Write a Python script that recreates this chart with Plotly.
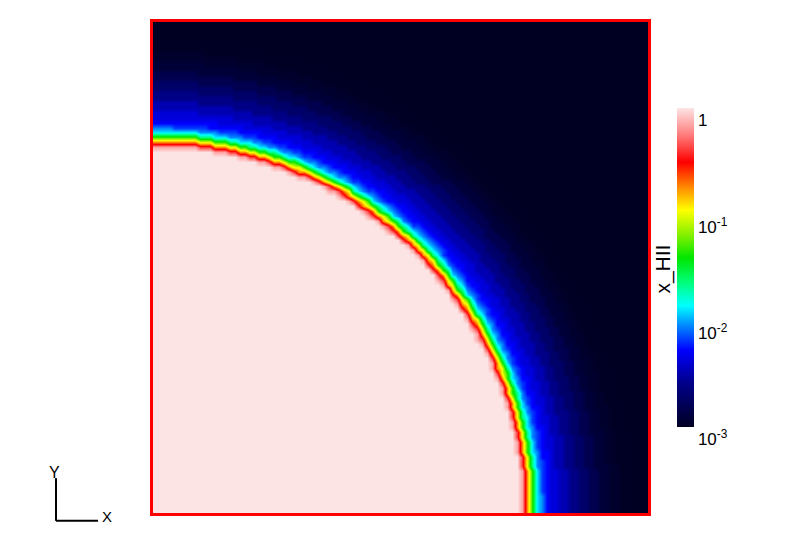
"""Slice of the ionised fraction x_HII around a point source (quarter box)."""

import numpy as np
import plotly.graph_objects as go

# grid resolution of the simulation slice (cells per side)
n_cells = 100

# radial profile: outer radius of each shell (box units)
shell_outer_radius = [0.745, 0.750, 0.755, 0.760, 0.765, 0.770, 0.775, 0.780,
                      0.786, 0.793, 0.805, 0.820, 0.840, 0.860, 0.880, 0.900,
                      0.920, 0.940, 0.960]
# x_HII in each shell, last value is everything beyond the last shell
shell_x_hii = [1.0, 0.7, 0.4, 0.18, 0.1, 0.045, 0.022, 0.0126,
               0.0089, 0.0066, 0.0052, 0.0042, 0.0033, 0.0025, 0.0019, 0.00148,
               0.00123, 0.0011, 0.00102, 0.001]

tick_vals = [-3, -2, -1, 0]
tick_text = ["10<sup>-3</sup>", "10<sup>-2</sup>", "10<sup>-1</sup>", "1"]

# colour map: navy -> blue -> cyan -> green -> yellow -> red -> pale pink
colorscale = [
    [0.00, "rgb(0,0,35)"],
    [0.14, "rgb(0,0,140)"],
    [0.24, "rgb(0,0,255)"],
    [0.32, "rgb(0,140,255)"],
    [0.38, "rgb(0,255,255)"],
    [0.45, "rgb(0,255,128)"],
    [0.53, "rgb(0,230,0)"],
    [0.60, "rgb(128,240,0)"],
    [0.68, "rgb(255,255,0)"],
    [0.75, "rgb(255,140,0)"],
    [0.83, "rgb(255,0,0)"],
    [0.92, "rgb(255,130,130)"],
    [1.00, "rgb(253,228,228)"],
]

# build the 2D slice by looking up each cell's shell
centres = (np.arange(n_cells) + 0.5) / n_cells
xx, yy = np.meshgrid(centres, centres)
rr = np.sqrt(xx ** 2 + yy ** 2)
shell_idx = np.searchsorted(np.array(shell_outer_radius), rr)
z = np.log10(np.array(shell_x_hii))[shell_idx]

font = "Liberation Sans, Arial, sans-serif"

fig = go.Figure(go.Heatmap(
    x=centres,
    y=centres,
    z=z,
    zmin=-3,
    zmax=0,
    zsmooth="best",
    colorscale=colorscale,
    colorbar=dict(
        tickvals=tick_vals,
        ticktext=tick_text,
        ticks="",
        ticklabelposition="outside bottom",
        tickfont=dict(family=font, size=17, color="black"),
        thickness=17,
        lenmode="pixels",
        len=319,
        x=1.0586,
        xanchor="left",
        y=0.499,
        yanchor="middle",
        xpad=0,
        ypad=0,
        outlinewidth=0,
    ),
    hovertemplate="x=%{x:.3f}<br>y=%{y:.3f}<br>log x_HII=%{z:.2f}<extra></extra>",
))

axis_style = dict(
    range=[0, 1],
    showgrid=False,
    zeroline=False,
    showticklabels=False,
    ticks="",
    showline=True,
    mirror=True,
    linecolor="red",
    linewidth=3,
)

# the page adds an 8px body margin, so the figure is a bit smaller than the window
fig.update_layout(
    width=784,
    height=517,
    margin=dict(l=145, r=144, t=11, b=12),
    paper_bgcolor="white",
    plot_bgcolor="white",
    xaxis=axis_style,
    yaxis=axis_style,
    font=dict(family=font, color="black"),
    showlegend=False,
)

# colour bar title, sits left of the bar
fig.add_annotation(
    x=1.0305, y=0.496, xref="paper", yref="paper",
    xanchor="center", yanchor="middle",
    text="x_HII", textangle=-90, showarrow=False,
    font=dict(family=font, size=21, color="black"),
)

# orientation triad in the lower left corner
triad = dict(type="line", xref="paper", yref="paper",
             line=dict(color="black", width=2))
fig.add_shape(x0=-0.196, y0=0.071, x1=-0.196, y1=-0.016, **triad)
fig.add_shape(x0=-0.196, y0=-0.016, x1=-0.111, y1=-0.016, **triad)
fig.add_annotation(x=-0.198, y=0.083, xref="paper", yref="paper", text="Y",
                   xanchor="center", yanchor="middle",
                   showarrow=False, font=dict(family=font, size=16))
fig.add_annotation(x=-0.093, y=-0.007, xref="paper", yref="paper", text="X",
                   xanchor="center", yanchor="middle",
                   showarrow=False, font=dict(family=font, size=15))

fig.write_html("out.html")
